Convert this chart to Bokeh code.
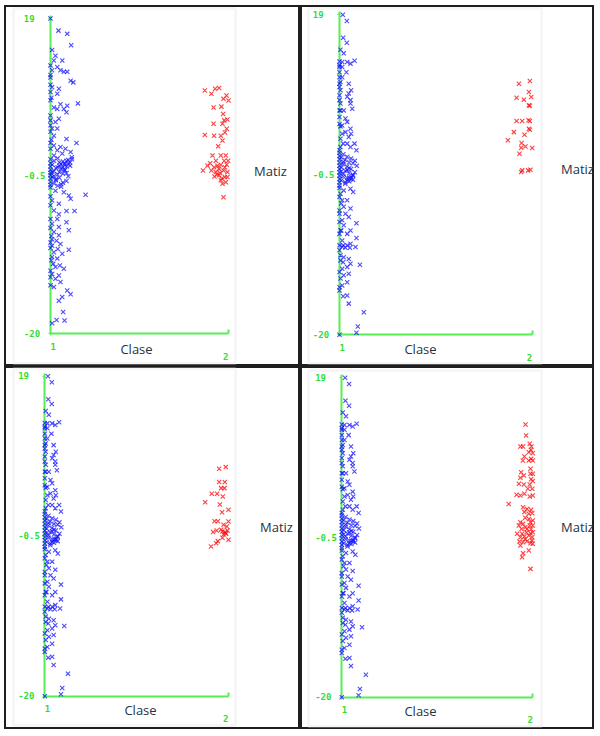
from bokeh.plotting import figure
from bokeh.models import Range1d, LinearAxis, FixedTicker, Label, BoxAnnotation, Spacer
from bokeh.layouts import row, column
from bokeh.embed import file_html
from bokeh.resources import INLINE

# ---------------- data ----------------
CLASSES = [1, 2]
CLASS_LABELS = {1: "\u00a01", 2: "2\u00a0"}
Y_TICKS = [-20, -0.5, 19]
Y_LABELS = {19: "19\u00a0\u00a0", -0.5: "-0.5", -20: "-20\u00a0"}
X_TITLE = "Clase"
Y_TITLE = "Matiz"

# panel 1 (top-left) - class 1
b1_x = [1.0, 1.045, 1.094, 1.116, 1.009, 1.028, 1.066, 1.019, 1.0, 1.038, 1.009, 1.056, 1.094, 1.075,
        1.113, 1.128, 1.0, 1.009, 1.047, 1.0, 1.038, 1.154, 1.0, 1.019, 1.056, 1.094, 1.075, 1.038,
        1.09, 1.047, 1.028, 1.0, 1.009, 1.038, 1.0, 1.019, 1.09, 1.146, 1.019, 1.056, 1.084, 1.0,
        1.038, 1.113, 1.066, 1.019, 1.12,
        1.0, 1.0, 1.005, 1.0, 1.0, 1.005, 1.0,
        1.0, 1.0, 1.0, 1.0, 1.0, 1.0, 1.0, 1.0, 1.0, 1.0,
        1.01, 1.01, 1.02, 1.02, 1.03, 1.03, 1.04, 1.04, 1.05, 1.05,
        1.06, 1.06, 1.07, 1.07, 1.08, 1.08, 1.09, 1.09, 1.10, 1.10,
        1.11, 1.11, 1.12, 1.02, 1.05, 1.07, 1.09, 1.04, 1.06, 1.08,
        1.03, 1.01, 1.10, 1.06, 1.08, 1.05, 1.02, 1.09, 1.07, 1.04,
        1.197, 1.028, 1.075, 1.103, 1.113, 1.009, 1.0, 1.047, 1.019, 1.09, 1.135, 1.047, 1.038, 1.0,
        1.09, 1.009, 1.047, 1.103, 1.019, 1.047, 1.009, 1.034, 1.056, 1.009, 1.041, 1.103, 1.019,
        1.066, 1.009, 1.038, 1.015, 1.053, 1.028, 1.075, 1.009, 1.047, 1.028, 1.056, 1.0, 1.019,
        1.094, 1.066, 1.113, 1.047, 1.071, 1.034, 1.079, 1.009,
        1.0, 1.0, 1.0, 1.005, 1.0, 1.0, 1.005, 1.0]
b1_y = [19.0, 17.5, 17.1, 15.7, 15.1, 14.4, 13.8, 13.8, 13.2, 13.0, 12.6, 12.6, 12.4, 12.4,
        11.3, 11.1, 11.7, 10.5, 10.3, 9.9, 9.7, 8.5, 8.9, 8.0, 8.4, 8.2, 7.8, 7.8,
        7.4, 6.6, 6.2, 5.8, 5.4, 5.4, 5.0, 4.5, 4.1, 3.6, 3.3, 3.1, 2.9, 2.9,
        2.7, 2.5, 2.3, 2.05, 1.85,
        12.0, 10.8, 9.2, 7.0, 6.4, 4.0, 3.6,
        1.6, 1.1, 0.7, 0.3, -0.1, -0.4, -0.8, -1.2, -1.6, -1.9,
        0.9, -0.6, 1.4, 0.1, -1.0, 0.5, 1.7, -0.3, 1.2, 0.8,
        1.0, 0.4, 1.3, 0.6, 1.1, 0.9, 1.4, 0.7, 1.0, 1.5,
        0.8, 1.2, 1.6, -1.4, -0.7, -0.2, -1.1, -1.7, -1.5, 0.2,
        -0.9, 0.0, -0.5, -1.8, 0.3, 0.0, -0.5, -0.1, -1.3, 0.6,
        -2.8, -2.3, -2.5, -2.9, -3.3, -3.5, -4.1, -3.9, -4.75, -4.8, -4.8, -5.2, -5.8, -5.8,
        -6.2, -6.4, -6.8, -7.2, -7.4, -7.8, -8.3, -8.5, -8.9, -9.1, -9.5, -9.6, -9.9,
        -10.1, -10.5, -10.7, -11.35, -11.55, -11.75, -11.95, -12.6, -12.8, -13.2, -13.6, -14.0, -14.2,
        -14.65, -15.45, -15.1, -15.9, -17.3, -18.3, -18.35, -18.7,
        -3.0, -6.9, -8.7, -10.9, -12.2, -13.0, -7.9, -9.4]

# panel 1 (top-left) - class 2
r1_x = [1.867, 1.904, 1.925, 1.947, 1.972, 1.989, 2.0, 1.916, 1.96, 1.97, 1.976, 1.994, 1.916, 1.966,
        1.99, 1.867, 1.919, 1.957, 1.98, 1.966, 1.942, 1.91, 1.957, 1.985, 1.897, 1.929, 1.976, 1.998,
        1.882, 1.938, 1.957, 1.98, 1.857, 1.904, 1.929, 1.953, 1.972, 1.994, 1.921, 1.947, 1.98, 1.994,
        1.957, 1.966, 1.985, 1.972, 1.947, 1.919, 1.99, 1.935, 1.962]
r1_y = [10.1, 9.7, 10.3, 10.4, 9.06, 9.47, 8.85, 8.0, 8.1, 7.2, 6.4, 6.5, 5.97, 5.97,
        5.35, 4.6, 4.5, 4.5, 4.9, 3.9, 3.2, 2.05, 2.05, 2.05, 1.1, 1.4, 1.4, 1.4,
        0.8, 0.8, 0.9, 0.6, 0.2, 0.2, 0.0, -0.1, 0.2, 0.0, -0.55, -0.4, -0.6, -0.6,
        -1.0, -1.45, -1.25, -3.1, 0.4, 0.6, 0.9, -0.3, -0.8]

# panels 2-4 - class 1
b_x = [1.017, 1.038, 1.019, 1.038, 1.005, 1.022, 1.0, 1.014, 1.04, 1.057, 1.078, 1.0, 1.014,
       1.036, 1.0, 1.014, 1.005, 1.048, 1.0, 1.005, 1.06, 1.048, 1.0, 1.04, 1.057, 1.005, 1.057,
       1.066, 1.0, 1.022, 1.031, 1.04, 1.014, 1.005, 1.057, 1.031, 1.014, 1.06, 1.048, 1.005,
       1.019, 1.04, 1.078, 1.005, 1.057, 1.088, 1.0,
       1.0, 1.0, 1.0, 1.0, 1.005, 1.0, 1.0,
       1.0, 1.0, 1.0, 1.0, 1.0, 1.0, 1.0, 1.0, 1.0, 1.0, 1.0, 1.0,
       1.01, 1.01, 1.01, 1.02, 1.02, 1.02, 1.03, 1.03, 1.03, 1.04, 1.04, 1.04, 1.05, 1.05, 1.05,
       1.06, 1.06, 1.06, 1.07, 1.07, 1.07, 1.08, 1.08, 1.09,
       1.02, 1.04, 1.05, 1.06, 1.03, 1.01, 1.05, 1.07, 1.02, 1.04,
       1.057, 1.022, 1.071, 1.005, 1.014, 1.04, 1.057, 1.0, 1.031, 1.048, 1.014, 1.0, 1.088,
       1.022, 1.057, 1.005, 1.04, 1.088, 1.014, 1.057, 1.0, 1.014, 1.031, 1.054, 1.083, 1.0,
       1.005, 1.022, 1.048, 1.005, 1.019, 1.057, 1.106, 1.04, 1.014, 1.0, 1.048, 1.022, 1.005,
       1.04, 1.014, 1.0, 1.0, 1.019, 1.04, 1.048, 1.126, 1.095, 1.088, 1.0,
       1.0, 1.009, 1.022, 1.0, 1.009, 1.0, 1.019, 1.04]
b_y = [19.0, 18.25, 16.2, 15.6, 14.75, 14.3, 13.3, 13.25, 13.25, 13.05, 13.4, 12.85, 12.65,
       12.0, 12.0, 11.4, 10.8, 10.6, 10.2, 9.8, 9.8, 9.4, 9.2, 9.0, 8.6, 8.2, 8.2,
       7.55, 7.35, 7.35, 6.35, 5.95, 5.5, 5.4, 5.1, 4.7, 4.5, 4.5, 4.1, 3.9,
       3.3, 3.3, 3.3, 2.9, 2.9, 2.5, 2.5,
       12.65, 11.4, 10.6, 8.6, 7.35, 6.55, 5.7,
       2.2, 1.8, 1.4, 1.0, 0.6, 0.2, -0.2, -0.6, -1.0, -1.4, -1.8, -2.1,
       1.6, 0.4, -1.2, 2.0, 0.8, -0.4, 1.3, 0.0, -1.6, 1.7, 0.5, -0.9, 1.0, -0.3, -1.3,
       1.5, 0.2, -0.8, 0.9, -0.5, -1.1, 1.2, -0.2, 0.6,
       -0.7, -1.2, -0.9, -1.0, -1.4, -0.1, 0.3, -0.6, 1.1, 0.1,
       -2.2, -2.4, -2.6, -2.8, -3.6, -3.6, -4.6, -4.85, -5.25, -5.65, -6.05, -6.25, -6.4,
       -6.65, -7.3, -7.3, -7.7, -8.2, -8.5, -8.9, -9.1, -9.3, -9.4, -9.4, -9.3, -9.7,
       -10.3, -10.55, -10.75, -10.95, -11.15, -11.35, -11.45, -11.75, -11.95, -12.35, -12.55, -12.75, -13.15,
       -13.6, -14.0, -14.2, -14.6, -15.3, -15.2, -16.2, -17.25, -19.0, -19.75, -20.0,
       -3.2, -4.0, -4.4, -5.25, -7.3, -7.7, -9.1, -9.1]

# panel 2 (top-right) - class 2
r2_x = [1.931, 1.988, 1.983, 1.995, 1.919, 1.957, 1.983, 1.988, 1.919, 1.948, 1.981, 1.988, 1.983,
        1.988, 1.905, 1.96, 1.874, 1.945, 1.943, 1.965, 2.0, 1.934, 1.943, 1.948, 1.979, 1.991]
r2_y = [10.6, 10.93, 9.6, 8.98, 8.9, 8.66, 7.96, 7.92, 6.05, 6.05, 6.14, 6.05, 5.12,
        5.0, 4.7, 4.39, 3.7, 3.37, 2.8, 2.96, 2.76, 2.07, -0.16, 0.04, 0.04, 0.12]

# panel 3 (bottom-left) - class 2
r3_x = [1.985, 1.949, 1.949, 1.98, 1.96, 1.978, 1.909, 1.938, 1.969, 1.873, 1.953, 2.0, 1.965,
        1.924, 1.942, 2.0, 1.973, 1.991, 1.916, 1.936, 1.967, 1.98, 1.995, 1.973, 1.987, 2.0,
        1.967, 1.942, 1.933, 1.905, 1.984, 1.96]
r3_y = [7.92, 7.72, 6.1, 6.1, 5.36, 5.36, 4.67, 4.67, 4.35, 3.65, 3.37, 2.72, 2.43,
        1.33, 1.33, 1.3, 0.89, 0.69, 0.0, 0.2, 0.08, 0.0, 0.2, -0.3, -0.2, -0.94,
        -0.7, -1.1, -1.35, -1.75, -0.1, 0.3]

# panel 4 (bottom-right) - class 2
r4_x = [1.962, 1.965, 1.935, 1.949, 1.984, 1.993, 1.979, 2.0, 1.956, 1.991, 1.948, 1.979, 2.0,
        1.988, 1.939, 1.988, 2.0, 1.953, 1.935, 1.927, 1.953, 1.984, 1.974, 1.997, 1.915, 1.935,
        1.956, 1.984, 2.0, 1.874, 1.949, 1.97, 1.991, 1.956, 1.979, 1.997, 1.935, 1.949, 1.988,
        2.0, 1.927, 1.961, 1.984, 2.0, 1.918, 1.944, 1.967, 1.988, 2.0, 1.935, 1.956, 1.979,
        1.997, 1.949, 1.97, 1.988, 2.0, 1.935, 1.979, 1.949, 1.944, 1.988,
        1.941, 1.97, 1.991, 1.93, 1.96, 1.995, 1.991, 2.0, 1.99, 1.96, 1.98]
r4_y = [13.3, 11.96, 10.6, 10.6, 10.94, 10.6, 9.92, 9.8, 9.39, 9.1, 8.9, 8.9, 8.9,
        7.9, 7.48, 7.28, 7.28, 7.07, 6.8, 6.05, 5.97, 5.97, 5.44, 5.44, 4.71, 4.63,
        4.83, 4.51, 4.63, 3.6, 3.2, 2.99, 2.88, 2.6, 2.39, 2.47, 1.37, 1.17, 1.37,
        1.58, 0.96, 0.76, 0.96, 0.96, -0.05, -0.05, 0.15, 0.03, 0.15, -0.46, -0.38, -0.26,
        -0.46, -1.07, -0.95, -1.19, -1.27, -1.48, -2.09, -2.41, -2.9, -4.33,
        0.55, 0.55, 0.5, -1.0, -0.7, -0.85, 6.6, 6.4, 10.2, 1.9, 1.75]

# ---------------- style / layout ----------------
AX_GREEN = "#55ee55"
TXT_GREEN = "#33dd33"
BLUE = "#1010ff"
RED = "#ff1010"
TITLE_COLOR = "#26323f"

# page-pixel geometry of each panel cell and its axes
PANELS = [
    dict(x0=4, y0=5, w=296, h=361, ax=50.0, x2=228.0, y19=18.0, ym20=333.3,
         box=(13, 8, 235, 363), clase=(136, 348), matiz=(270, 170)),
    dict(x0=300, y0=5, w=294, h=361, ax=339.0, x2=531.7, y19=14.3, ym20=334.3,
         box=(308, 8, 541, 363), clase=(420, 348), matiz=(577, 168)),
    dict(x0=4, y0=366, w=296, h=363, ax=44.3, x2=228.0, y19=375.7, ym20=695.7,
         box=(13, 368, 235, 725), clase=(140, 709), matiz=(276, 526)),
    dict(x0=300, y0=366, w=294, h=363, ax=341.3, x2=532.3, y19=377.3, ym20=696.7,
         box=(308, 370, 541, 726), clase=(420, 710), matiz=(577, 526)),
]


def make_panel(g, bx, by, rx, ry):
    sx = (g["x2"] - g["ax"]) / (CLASSES[1] - CLASSES[0])
    sy = (g["ym20"] - g["y19"]) / (Y_TICKS[2] - Y_TICKS[0])

    def dx(px):
        return CLASSES[0] + (px - g["ax"]) / sx

    def dy(py):
        return Y_TICKS[0] + (g["ym20"] - py) / sy

    p = figure(width=g["w"], height=g["h"],
               x_range=Range1d(dx(g["x0"]), dx(g["x0"] + g["w"])),
               y_range=Range1d(dy(g["y0"] + g["h"]), dy(g["y0"])),
               x_axis_type=None, y_axis_type=None, title=None,
               toolbar_location=None, output_backend="svg", min_border=0,
               background_fill_color="white", border_fill_color="white",
               outline_line_color="#1e1e1e", outline_line_width=3)

    bl, bt, br, bb = g["box"]
    p.add_layout(BoxAnnotation(left=dx(bl), right=dx(br), top=dy(bt), bottom=dy(bb),
                               fill_alpha=0, line_color="#e2e2e2", line_width=3,
                               level="underlay"))

    common = dict(minor_tick_line_color=None, major_label_text_font="DejaVu Sans Mono",
                  major_label_text_font_size="9px", major_label_text_font_style="bold",
                  major_label_text_color=TXT_GREEN, level="underlay")

    yax = LinearAxis(fixed_location=CLASSES[0], bounds=(Y_TICKS[0], Y_TICKS[2] + 0.35),
                     ticker=FixedTicker(ticks=Y_TICKS), major_label_overrides=Y_LABELS,
                     axis_line_color=AX_GREEN, axis_line_width=2,
                     major_tick_line_color=AX_GREEN, major_tick_in=0, major_tick_out=2,
                     major_label_standoff=3, **common)
    p.add_layout(yax, "left")

    xax1 = LinearAxis(fixed_location=Y_TICKS[0], bounds=(CLASSES[0], CLASSES[1]),
                      ticker=FixedTicker(ticks=[CLASSES[0]]),
                      major_label_overrides={CLASSES[0]: CLASS_LABELS[1]},
                      axis_line_color=AX_GREEN, axis_line_width=2,
                      major_tick_line_color=AX_GREEN, major_tick_in=0, major_tick_out=2,
                      major_label_standoff=6, **common)
    p.add_layout(xax1, "below")
    xax2 = LinearAxis(fixed_location=Y_TICKS[0], bounds=(CLASSES[0], CLASSES[1]),
                      ticker=FixedTicker(ticks=[CLASSES[1]]),
                      major_label_overrides={CLASSES[1]: CLASS_LABELS[2]},
                      axis_line_color=None,
                      major_tick_line_color=AX_GREEN, major_tick_line_width=2,
                      major_tick_in=4, major_tick_out=0,
                      major_label_standoff=18, **common)
    p.add_layout(xax2, "below")

    p.scatter(bx, by, marker="x", size=6, line_color=BLUE, line_alpha=0.75, line_width=1.1)
    p.scatter(rx, ry, marker="x", size=6, line_color=RED, line_alpha=0.8, line_width=1.1)

    cx, cy = g["clase"]
    p.add_layout(Label(x=dx(cx), y=dy(cy), text=X_TITLE, text_align="center",
                       text_baseline="middle", text_font="Open Sans",
                       text_font_size="13px", text_color=TITLE_COLOR))
    mx, my = g["matiz"]
    p.add_layout(Label(x=dx(mx), y=dy(my), text=Y_TITLE, text_align="center",
                       text_baseline="middle", text_font="Open Sans",
                       text_font_size="13px", text_color=TITLE_COLOR))
    return p


p1 = make_panel(PANELS[0], b1_x, b1_y, r1_x, r1_y)
p2 = make_panel(PANELS[1], b_x, b_y, r2_x, r2_y)
p3 = make_panel(PANELS[2], b_x, b_y, r3_x, r3_y)
p4 = make_panel(PANELS[3], b_x, b_y, r4_x, r4_y)

grid = column(row(p1, p2), row(p3, p4))
page = column(Spacer(width=598, height=5), row(Spacer(width=4, height=724), grid))

open("out.html", "w").write(file_html(page, INLINE))
